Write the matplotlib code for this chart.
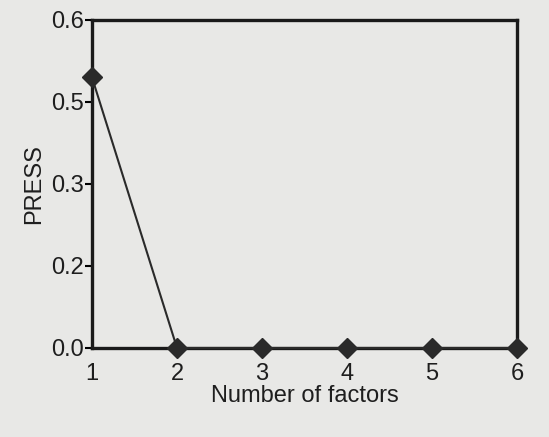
import numpy as np
import matplotlib.pyplot as plt

# PRESS vs number of PLS factors
factors = [1, 2, 3, 4, 5, 6]
press = [0.495, 0.0, 0.0, 0.0, 0.0, 0.0]
y_ticks = [0.0, 0.15, 0.30, 0.45, 0.60]
y_labels = ["0.0", "0.2", "0.3", "0.5", "0.6"]

plt.rcParams['font.family'] = ['Liberation Sans', 'DejaVu Sans']

fig = plt.figure(figsize=(5.49, 4.37), dpi=100, facecolor='#e8e8e6')
ax = fig.add_axes([92 / 549, 1 - 348 / 437, 425 / 549, 328 / 437])
ax.set_facecolor('#e8e8e6')

ax.plot(factors, press, color='#2a2a2a', lw=1.5, marker='D', ms=10,
        mfc='#2a2a2a', mec='#2a2a2a', clip_on=False, zorder=5)

ax.set_xlim(1, 6)
ax.set_ylim(0, 0.6)
ax.set_xticks(factors)
ax.set_yticks(y_ticks)
ax.set_yticklabels(y_labels)

for s in ax.spines.values():
    s.set_linewidth(2.4)
    s.set_color('#1a1a1a')

ax.tick_params(axis='y', direction='out', length=5, width=1.5, labelsize=17, pad=1,
               labelcolor='#1e1e1e')
ax.tick_params(axis='x', direction='out', length=0, labelsize=17, pad=11,
               labelcolor='#1e1e1e')

ax.set_xlabel("Number of factors", fontsize=17, labelpad=0, color='#1e1e1e')
ax.set_ylabel("PRESS", fontsize=17, labelpad=4, color='#1e1e1e')

fig.savefig('out.png', dpi=100, facecolor=fig.get_facecolor())
